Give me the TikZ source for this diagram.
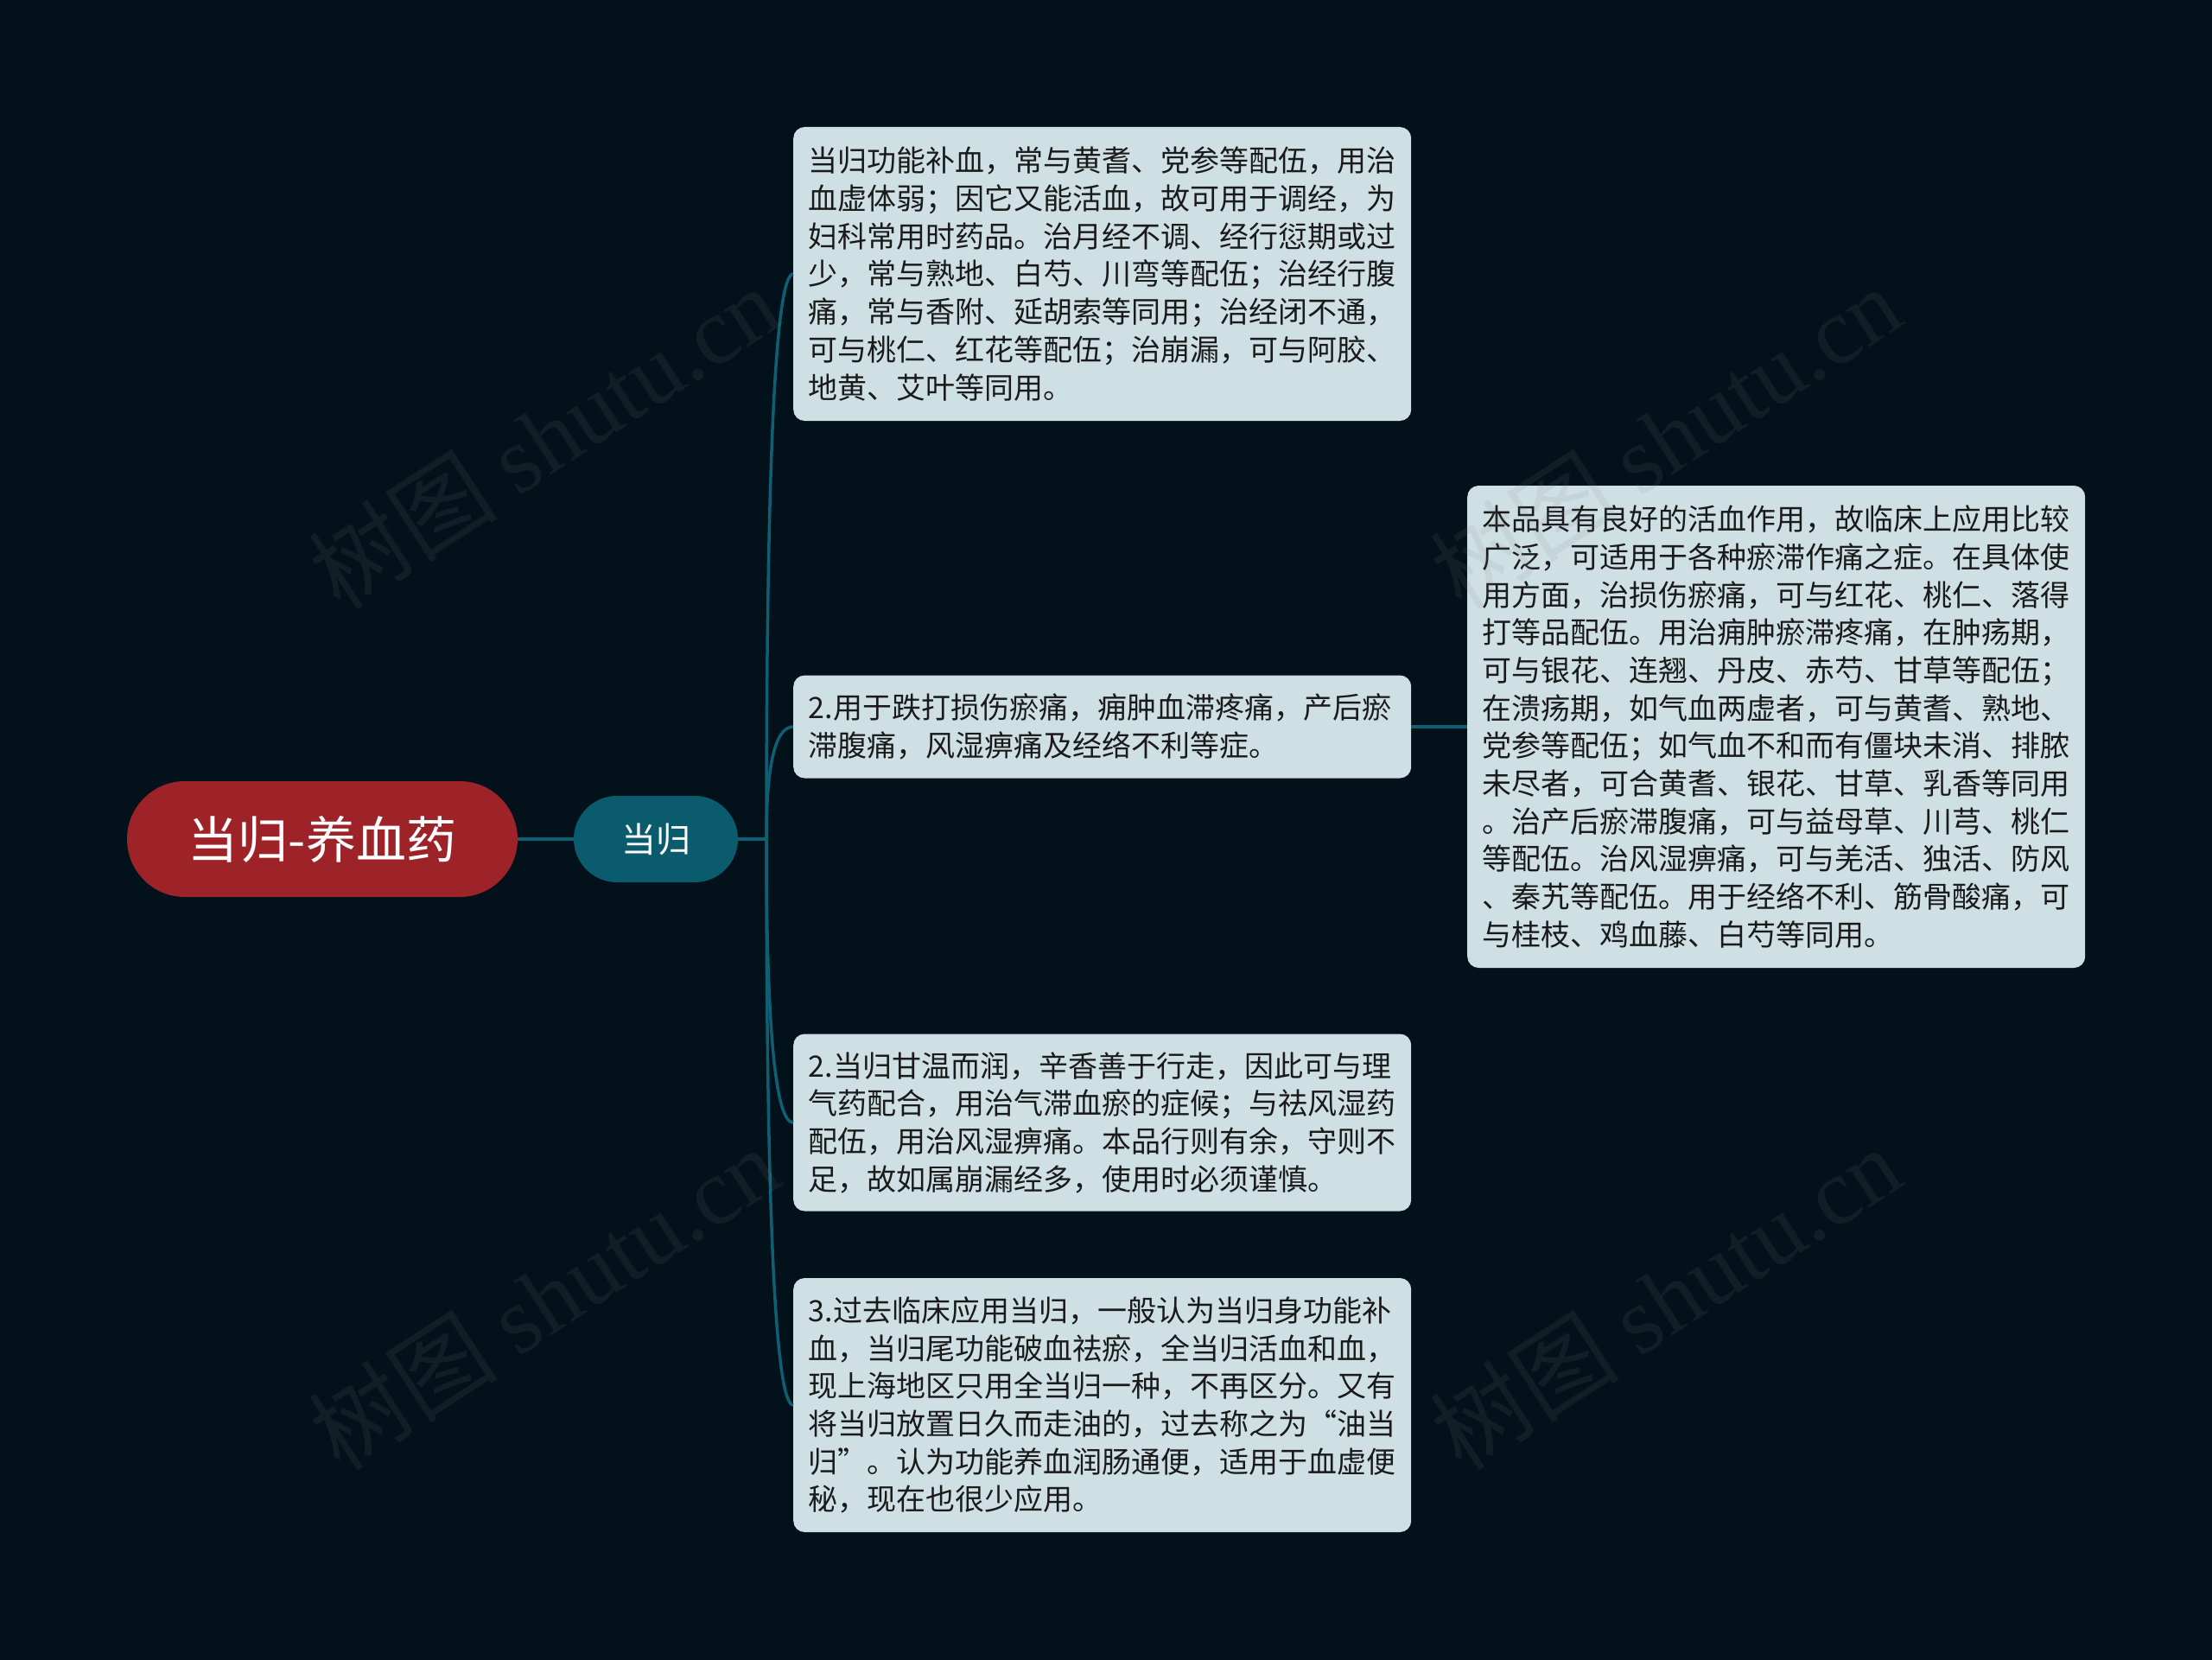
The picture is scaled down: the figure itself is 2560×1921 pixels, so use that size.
\documentclass[tikz,border=0pt]{standalone}
\usepackage{fontspec}
\setmainfont{Noto Sans CJK SC}
\newfontfamily\wmcjk{Noto Sans CJK SC}
\newfontfamily\wmlat{Liberation Serif}
\usetikzlibrary{calc}
\definecolor{bgc}{HTML}{02111A}
\definecolor{rootc}{HTML}{9E2328}
\definecolor{subc}{HTML}{0B5B6E}
\definecolor{linec}{HTML}{0F5F73}
\definecolor{boxc}{HTML}{CFE0E5}
\definecolor{txtc}{HTML}{1A1A1A}
\begin{document}
\begin{tikzpicture}[x=1pt,y=-1pt,
  conn/.style={draw=linec,line width=3.5pt},
  rootbox/.style={fill=rootc,rounded corners=67pt,minimum width=452pt,minimum height=134pt,inner sep=0pt,text=white,font=\fontsize{58}{64}\selectfont},
  subbox/.style={fill=subc,rounded corners=50pt,minimum width=190pt,minimum height=100pt,inner sep=0pt,text=white,font=\fontsize{40}{46}\selectfont},
  leafbox/.style={fill=boxc,rounded corners=13pt,text width=680pt,inner xsep=17.5pt,inner ysep=0pt,align=left,anchor=west,text=txtc,font=\fontsize{34}{43.7}\selectfont},
  wm/.style={text=gray,opacity=0.12,rotate=33,font=\fontsize{110}{120}\selectfont}
]
\fill[bgc] (0,0) rectangle (2560,1921);
\useasboundingbox (0,0) rectangle (2560,1921);

\node[rootbox] (root) at (373,971) {当归-养血药};
\node[subbox] (sub) at (759,971) {当归};

\node[leafbox,minimum height=340pt] (b1) at (918,317) {当归功能补血，常与黄耆、党参等配伍，用治\\血虚体弱；因它又能活血，故可用于调经，为\\妇科常用时药品。治月经不调、经行愆期或过\\少，常与熟地、白芍、川弯等配伍；治经行腹\\痛，常与香附、延胡索等同用；治经闭不通，\\可与桃仁、红花等配伍；治崩漏，可与阿胶、\\地黄、艾叶等同用。};
\node[leafbox,minimum height=119pt] (b2) at (918,841) {2.用于跌打损伤瘀痛，痈肿血滞疼痛，产后瘀\\滞腹痛，风湿痹痛及经络不利等症。};
\node[leafbox,minimum height=205pt] (b3) at (918,1299) {2.当归甘温而润，辛香善于行走，因此可与理\\气药配合，用治气滞血瘀的症候；与祛风湿药\\配伍，用治风湿痹痛。本品行则有余，守则不\\足，故如属崩漏经多，使用时必须谨慎。};
\node[leafbox,minimum height=294pt] (b4) at (918,1626) {3.过去临床应用当归，一般认为当归身功能补\\血，当归尾功能破血祛瘀，全当归活血和血，\\现上海地区只用全当归一种，不再区分。又有\\将当归放置日久而走油的，过去称之为“油当\\归”。认为功能养血润肠通便，适用于血虚便\\秘，现在也很少应用。};
\node[leafbox,minimum height=558pt] (b5) at (1698,841) {本品具有良好的活血作用，故临床上应用比较\\广泛，可适用于各种瘀滞作痛之症。在具体使\\用方面，治损伤瘀痛，可与红花、桃仁、落得\\打等品配伍。用治痈肿瘀滞疼痛，在肿疡期，\\可与银花、连翘、丹皮、赤芍、甘草等配伍；\\在溃疡期，如气血两虚者，可与黄耆、熟地、\\党参等配伍；如气血不和而有僵块未消、排脓\\未尽者，可合黄耆、银花、甘草、乳香等同用\\。治产后瘀滞腹痛，可与益母草、川芎、桃仁\\等配伍。治风湿痹痛，可与羌活、独活、防风\\、秦艽等配伍。用于经络不利、筋骨酸痛，可\\与桂枝、鸡血藤、白芍等同用。};

\coordinate (t) at (887,971);
\draw[conn] (root.east) -- (sub.west);
\draw[conn] (sub.east) -- (t);
\foreach \b in {b1,b2,b3,b4}{
  \draw[conn] (t) .. controls ($(t)!0.667!(t |- \b.west)$) and ($(\b.west)!0.667!(t |- \b.west)$) .. (\b.west);
}
\draw[conn] (b2.east) -- (b5.west);

\node[wm] (w1) at (629,506) {{\wmcjk 树图} {\wmlat shutu.cn}};
\node[wm] (w2) at (1927,506) {{\wmcjk 树图} {\wmlat shutu.cn}};
\node[wm] (w3) at (629,1502) {{\wmcjk 树图} {\wmlat shutu.cn}};
\node[wm] (w4) at (1927,1502) {{\wmcjk 树图} {\wmlat shutu.cn}};
\end{tikzpicture}
\end{document}
